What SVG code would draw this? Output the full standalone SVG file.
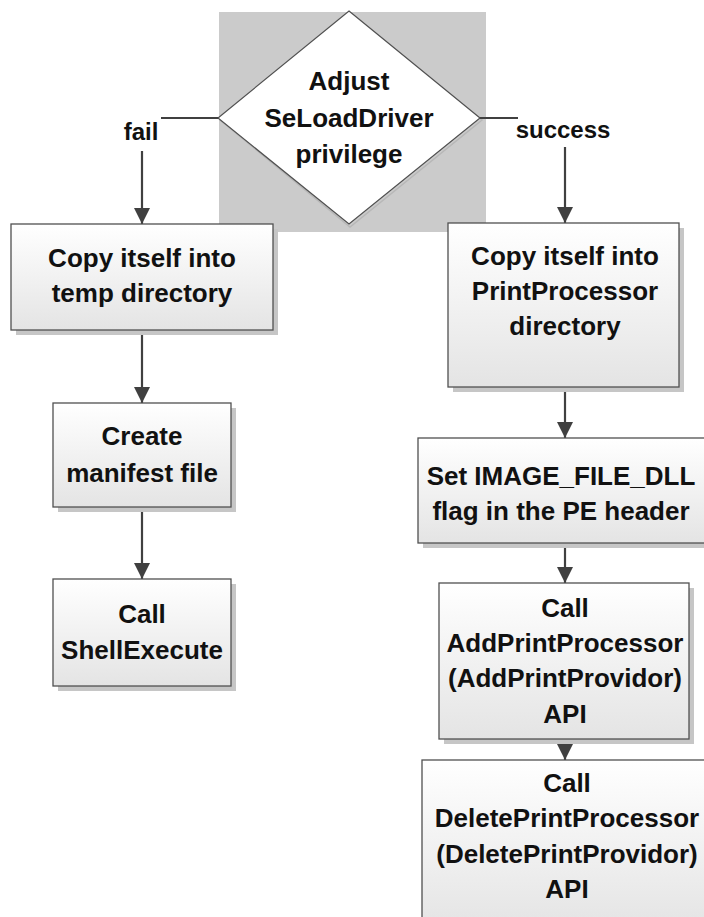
<svg xmlns="http://www.w3.org/2000/svg" width="704" height="917" viewBox="0 0 704 917">
  <defs>
    <linearGradient id="boxfill" x1="0" y1="0" x2="0" y2="1">
      <stop offset="0" stop-color="#ffffff"/>
      <stop offset="1" stop-color="#e4e4e4"/>
    </linearGradient>
    <marker id="arrow" markerUnits="userSpaceOnUse" markerWidth="16" markerHeight="16" refX="16" refY="8" orient="auto">
      <path d="M0,0 L16,8 L0,16 z" fill="#404040"/>
    </marker>
    <style>
      .box { fill: url(#boxfill); stroke: #505050; stroke-width: 1.3; }
      .shadow { fill: #c6c6c6; }
      .t { font-family: "Liberation Sans", Arial, sans-serif; font-weight: bold; font-size: 26px; fill: #111; text-anchor: middle; }
      .lbl { font-family: "Liberation Sans", Arial, sans-serif; font-weight: bold; font-size: 24px; fill: #111; text-anchor: middle; }
      .conn { fill: none; stroke: #404040; stroke-width: 2.2; }
    </style>
  </defs>

  <rect x="219" y="12" width="267" height="220" fill="#cbcbcb"/>

  <g id="decision">
    <polygon points="350,13 482,120 350,227 220,120" fill="none" stroke="#b8b8b8" stroke-width="1.5"/>
    <polygon points="349,11 480,118 349,224 218,118" fill="#ffffff" stroke="#505050" stroke-width="1.2"/>
    <text class="t" x="349" y="90">Adjust</text>
    <text class="t" x="349" y="127">SeLoadDriver</text>
    <text class="t" x="349" y="163">privilege</text>
  </g>

  <g id="connectors">
    <path class="conn" d="M218,118 H161"/>
    <path class="conn" d="M142,151 V224" marker-end="url(#arrow)"/>
    <path class="conn" d="M142,330 V403" marker-end="url(#arrow)"/>
    <path class="conn" d="M142,507 V579" marker-end="url(#arrow)"/>
    <path class="conn" d="M480,118 H518"/>
    <path class="conn" d="M565,147 V223" marker-end="url(#arrow)"/>
    <path class="conn" d="M565,387 V438" marker-end="url(#arrow)"/>
    <path class="conn" d="M565,543 V583" marker-end="url(#arrow)"/>
    <path class="conn" d="M565,739 V760" marker-end="url(#arrow)"/>
    <text class="lbl" x="141" y="140">fail</text>
    <text class="lbl" x="563" y="138">success</text>
  </g>

  <g id="copy-temp">
    <rect class="shadow" x="16" y="229" width="262" height="106"/>
    <rect class="box" x="11" y="224" width="262" height="106"/>
    <text class="t" x="142" y="267">Copy itself into</text>
    <text class="t" x="142" y="302">temp directory</text>
  </g>

  <g id="create-manifest">
    <rect class="shadow" x="58" y="408" width="178" height="104"/>
    <rect class="box" x="53" y="403" width="178" height="104"/>
    <text class="t" x="142" y="445">Create</text>
    <text class="t" x="142" y="482">manifest file</text>
  </g>

  <g id="shell-execute">
    <rect class="shadow" x="58" y="584" width="178" height="107"/>
    <rect class="box" x="53" y="579" width="178" height="107"/>
    <text class="t" x="142" y="623">Call</text>
    <text class="t" x="142" y="659">ShellExecute</text>
  </g>

  <g id="copy-printprocessor">
    <rect class="shadow" x="453" y="228" width="231" height="164"/>
    <rect class="box" x="448" y="223" width="231" height="164"/>
    <text class="t" x="565" y="265">Copy itself into</text>
    <text class="t" x="565" y="300">PrintProcessor</text>
    <text class="t" x="565" y="335">directory</text>
  </g>

  <g id="set-dll-flag">
    <rect class="shadow" x="423" y="443" width="290" height="105"/>
    <rect class="box" x="418" y="438" width="290" height="105"/>
    <text class="t" x="561" y="485">Set IMAGE_FILE_DLL</text>
    <text class="t" x="561" y="520">flag in the PE header</text>
  </g>

  <g id="add-print-processor">
    <rect class="shadow" x="444" y="588" width="250" height="156"/>
    <rect class="box" x="439" y="583" width="250" height="156"/>
    <text class="t" x="565" y="617">Call</text>
    <text class="t" x="565" y="652">AddPrintProcessor</text>
    <text class="t" x="565" y="687">(AddPrintProvidor)</text>
    <text class="t" x="565" y="723">API</text>
  </g>

  <g id="delete-print-processor">
    <rect class="shadow" x="427" y="765" width="290" height="170"/>
    <rect class="box" x="422" y="760" width="290" height="170"/>
    <text class="t" x="567" y="792">Call</text>
    <text class="t" x="567" y="827">DeletePrintProcessor</text>
    <text class="t" x="567" y="863">(DeletePrintProvidor)</text>
    <text class="t" x="567" y="898">API</text>
  </g>
</svg>
